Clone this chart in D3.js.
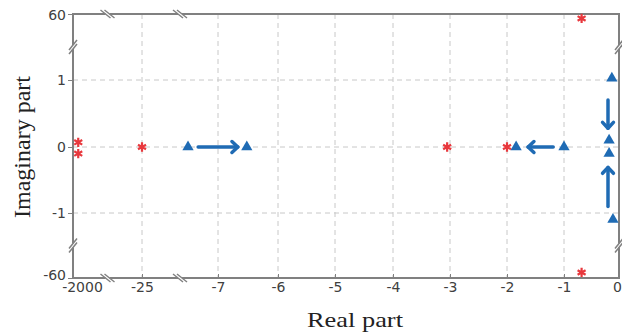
<!DOCTYPE html>
<html>
<head>
<meta charset="utf-8">
<script src="https://cdn.jsdelivr.net/npm/d3@7"></script>
<style>
  body { margin: 0; background: #fff; }
  .tick text { font-family: "DejaVu Sans", sans-serif; font-size: 14px; fill: #404040; }
  .axisText { font-family: "Liberation Serif", "Times New Roman", serif; font-size: 22px; fill: #222; }
</style>
</head>
<body>
<div class="chart"></div>
<script>
// Chart size
var svgWidth = 622;
var svgHeight = 335;

// Broken axes: tick values (each segment is linear)
var xTicks = [-2000, -25, -7, -6, -5, -4, -3, -2, -1, 0];
var yTicks = [-60, -1, 0, 1, 60];

// Red asterisks (zeros)
var zerosRe = [-1850, -1850, -25, -3.05, -2, -0.68, -0.68];
var zerosIm = [0.07, -0.1, 0, 0, 0, 56, -55];

// Blue triangles (poles)
var polesRe = [-14.1, -6.52, -1.84, -1, -0.13, -0.18, -0.18, -0.11];
var polesIm = [0, 0, 0, 0, 2.5, 0.1, -0.1, -7];

// Arrows showing how the poles move
var arrowFromRe = [-11.7, -1.19, -0.2, -0.2];
var arrowFromIm = [0, 0, 0.7, -0.9];
var arrowToRe = [-6.67, -1.63, -0.2, -0.2];
var arrowToIm = [0, 0, 0.28, -0.31];

var svg = d3.select(".chart")
  .append("svg")
  .attr("width", svgWidth)
  .attr("height", svgHeight);

var plotLeft = 73, plotRight = 619, plotTop = 14, plotBottom = 278;

// piecewise scales for the broken axes
var xScale = d3.scaleLinear()
  .domain(xTicks)
  .range([plotLeft, 142, 218, 278, 335, 393, 450, 507, 564, plotRight]);
var yScale = d3.scaleLinear()
  .domain(yTicks)
  .range([plotBottom, 213, 147, 80, plotTop]);

var blue = "#1f6bb4";
var red = "#e8383d";
var frameColor = "#808080";

// Grid lines
svg.append("g")
  .selectAll("line")
  .data(xTicks.slice(1, -1))
  .enter().append("line")
  .attr("x1", function(d) { return xScale(d); })
  .attr("x2", function(d) { return xScale(d); })
  .attr("y1", plotTop)
  .attr("y2", plotBottom)
  .attr("stroke", "#c8c8c8")
  .attr("stroke-dasharray", "5,4");

svg.append("g")
  .selectAll("line")
  .data(yTicks.slice(1, -1))
  .enter().append("line")
  .attr("y1", function(d) { return yScale(d); })
  .attr("y2", function(d) { return yScale(d); })
  .attr("x1", plotLeft)
  .attr("x2", plotRight)
  .attr("stroke", "#c8c8c8")
  .attr("stroke-dasharray", "5,4");

// Axes (plain hyphen minus, like the reference)
var bottomAxis = d3.axisBottom(xScale)
  .tickValues(xTicks)
  .tickSize(-4)
  .tickPadding(6)
  .tickFormat(function(d) { return String(d); });
var leftAxis = d3.axisLeft(yScale)
  .tickValues(yTicks)
  .tickSize(5)
  .tickPadding(2)
  .tickFormat(function(d) { return String(d); });

var gx = svg.append("g")
  .attr("transform", "translate(0," + plotBottom + ")")
  .call(bottomAxis);
var gy = svg.append("g")
  .attr("transform", "translate(" + plotLeft + ",0)")
  .call(leftAxis);

gx.select(".domain").remove();
gy.select(".domain").remove();
gx.selectAll(".tick line").attr("stroke", frameColor);
gy.selectAll(".tick line").attr("stroke", frameColor);
gx.selectAll(".tick text").attr("dy", "0.6em");
// shift corner labels so they do not collide
gx.selectAll(".tick text").filter(function(d) { return d === -2000; }).attr("dx", 9);
gx.selectAll(".tick text").filter(function(d) { return d === 0; }).attr("dx", -2);
gy.selectAll(".tick text").filter(function(d) { return d === -60; }).attr("dy", "0.1em");
gy.selectAll(".tick text").filter(function(d) { return d === 60; }).attr("dy", "0.4em");

// Frame
svg.append("rect")
  .attr("x", plotLeft)
  .attr("y", plotTop)
  .attr("width", plotRight - plotLeft)
  .attr("height", plotBottom - plotTop)
  .attr("fill", "none")
  .attr("stroke", frameColor)
  .attr("stroke-width", 2);

// Break marks, halfway inside each broken segment
var xBreaks = [(xScale(-2000) + xScale(-25)) / 2, (xScale(-25) + xScale(-7)) / 2];
var yBreaks = [(yScale(60) + yScale(1)) / 2, (yScale(-1) + yScale(-60)) / 2];

function breakMark(cx, cy, horizontal) {
  var g = svg.append("g").attr("transform", "translate(" + cx + "," + cy + ")");
  var gap = 2;
  if (horizontal) {
    g.append("line").attr("x1", -gap).attr("x2", gap).attr("y1", 0).attr("y2", 0)
      .attr("stroke", "#fff").attr("stroke-width", 4);
    [-gap, gap].forEach(function(o) {
      g.append("line").attr("x1", o - 5).attr("y1", -4).attr("x2", o + 5).attr("y2", 4)
        .attr("stroke", frameColor).attr("stroke-width", 1.5);
    });
  } else {
    g.append("line").attr("x1", 0).attr("x2", 0).attr("y1", -gap).attr("y2", gap)
      .attr("stroke", "#fff").attr("stroke-width", 4);
    [-gap, gap].forEach(function(o) {
      g.append("line").attr("x1", -4).attr("y1", o + 5).attr("x2", 4).attr("y2", o - 5)
        .attr("stroke", frameColor).attr("stroke-width", 1.5);
    });
  }
}
xBreaks.forEach(function(x) { breakMark(x, plotTop, true); breakMark(x, plotBottom, true); });
yBreaks.forEach(function(y) { breakMark(plotLeft, y, false); breakMark(plotRight, y, false); });

// Arrows
var arrows = arrowFromRe.map(function(d, i) {
  return { x1: xScale(d), y1: yScale(arrowFromIm[i]), x2: xScale(arrowToRe[i]), y2: yScale(arrowToIm[i]) };
});
var arrowG = svg.append("g")
  .attr("stroke", blue)
  .attr("stroke-width", 3.5)
  .attr("fill", "none")
  .attr("stroke-linecap", "round")
  .attr("stroke-linejoin", "round");
arrows.forEach(function(a) {
  arrowG.append("line").attr("x1", a.x1).attr("y1", a.y1).attr("x2", a.x2).attr("y2", a.y2);
  var ang = Math.atan2(a.y2 - a.y1, a.x2 - a.x1);
  var h = 8, w = 0.75;
  var p1 = [a.x2 - h * Math.cos(ang - w), a.y2 - h * Math.sin(ang - w)];
  var p2 = [a.x2 - h * Math.cos(ang + w), a.y2 - h * Math.sin(ang + w)];
  arrowG.append("path").attr("d", "M" + p1 + "L" + a.x2 + "," + a.y2 + "L" + p2);
});

// Poles
svg.append("g")
  .selectAll("path")
  .data(polesRe)
  .enter().append("path")
  .attr("transform", function(d, i) {
    return "translate(" + xScale(d) + "," + yScale(polesIm[i]) + ")";
  })
  .attr("d", d3.symbol().type(d3.symbolTriangle).size(55))
  .attr("fill", blue);

// Zeros
svg.append("g")
  .selectAll("path")
  .data(zerosRe)
  .enter().append("path")
  .attr("transform", function(d, i) {
    return "translate(" + xScale(d) + "," + yScale(zerosIm[i]) + ")";
  })
  .attr("d", d3.symbol().type(d3.symbolAsterisk).size(60))
  .attr("fill", "none")
  .attr("stroke", red)
  .attr("stroke-width", 2.2);

// Axis labels
svg.append("text")
  .attr("class", "axisText")
  .attr("transform", "translate(30," + yScale(0) + ") rotate(-90)")
  .attr("text-anchor", "middle")
  .style("font-size", "24px")
  .text("Imaginary part");

svg.append("text")
  .attr("class", "axisText")
  .attr("x", 355)
  .attr("y", 327)
  .attr("text-anchor", "middle")
  .attr("textLength", 96)
  .attr("lengthAdjust", "spacingAndGlyphs")
  .text("Real part");
</script>
</body>
</html>
